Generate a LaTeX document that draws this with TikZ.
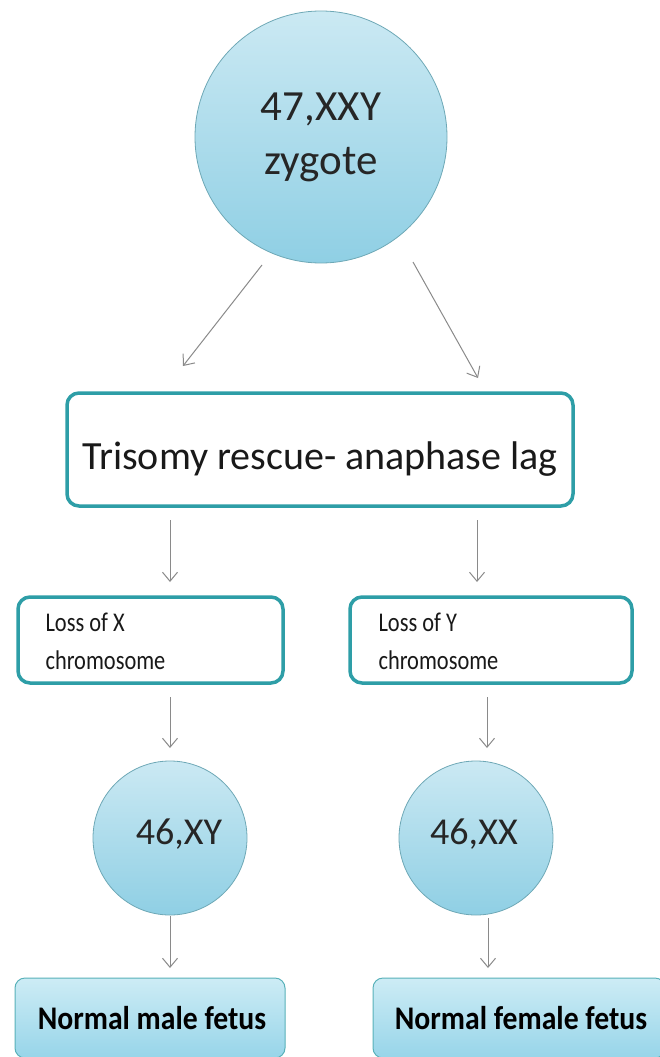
\documentclass[tikz,border=0pt]{standalone}
\usepackage{fontspec}
\setmainfont{Carlito}
\newfontfamily\narrowfont[FakeStretch=0.9]{Carlito}
\newfontfamily\slimfont[FakeStretch=0.83]{Carlito}
\usetikzlibrary{arrows.meta}
\definecolor{teal1}{HTML}{2E9EA7}
\definecolor{circtop}{HTML}{CBE9F3}
\definecolor{circbot}{HTML}{8FCFE4}
\definecolor{circline}{HTML}{6EA8B6}
\definecolor{boxtop}{HTML}{CDECF5}
\definecolor{boxbot}{HTML}{97D5E9}
\definecolor{arrgray}{HTML}{8A8A8A}
\tikzset{
  blob/.style={circle, draw=circline, line width=0.8pt, top color=circtop, bottom color=circbot, inner sep=0pt, align=center, text=black!85},
  whitebox/.style={rectangle, rounded corners=12pt, draw=teal1, line width=3.5pt, fill=white, inner sep=0pt},
  bluebox/.style={rectangle, rounded corners=10pt, draw=teal1!80, line width=1pt, top color=boxtop, bottom color=boxbot, inner sep=0pt},
  arr/.style={draw=arrgray, line width=1pt, -{Straight Barb[length=9pt,width=15pt]}},
  losstext/.style={anchor=west, align=left, font=\slimfont\fontsize{27}{38}\selectfont, text=black!90},
}
\begin{document}
\begin{tikzpicture}[x=1pt,y=-1pt]
\useasboundingbox (0,0) rectangle (660,1057);
% top circle
\node[blob, minimum size=252pt, font=\fontsize{43}{54}\selectfont] (zyg) at (321,137) {47,XXY\\zygote};
% trisomy box
\node[whitebox, minimum width=506pt, minimum height=113pt] (tri) at (320,449.5) {};
\node[font=\fontsize{40}{48}\selectfont, text=black!90] (tritxt) at (320,459) {Trisomy rescue- anaphase lag};
% arrows from zygote
\coordinate (a1s) at (262,265); \coordinate (a1e) at (183,366);
\coordinate (a2s) at (413,262); \coordinate (a2e) at (478,378);
\draw[arr] (a1s) -- (a1e);
\draw[arr] (a2s) -- (a2e);
% loss boxes
\node[whitebox, minimum width=265pt, minimum height=86pt] (lx) at (150.5,640) {};
\node[whitebox, minimum width=282pt, minimum height=86pt] (ly) at (491,640) {};
\node[losstext] (lxt) at (42,641) {Loss of X\\chromosome};
\node[losstext] (lyt) at (375,641) {Loss of Y\\chromosome};
% arrows trisomy -> loss
\coordinate (b1s) at (170,520); \coordinate (b1e) at (170,582);
\coordinate (b2s) at (477,520); \coordinate (b2e) at (477,582);
\draw[arr] (b1s) -- (b1e);
\draw[arr] (b2s) -- (b2e);
% circles
\node[blob, minimum size=154pt] (xy) at (170,838) {};
\node[blob, minimum size=154pt] (xx) at (476,838) {};
\node[font=\fontsize{38}{46}\selectfont, text=black!85] (xyt) at (179,834) {46,XY};
\node[font=\fontsize{38}{46}\selectfont, text=black!85] (xxt) at (474,834) {46,XX};
% arrows loss -> circles
\coordinate (c1s) at (170,697); \coordinate (c1e) at (170,748);
\coordinate (c2s) at (487,697); \coordinate (c2e) at (487,748);
\draw[arr] (c1s) -- (c1e);
\draw[arr] (c2s) -- (c2e);
% arrows circles -> fetus
\coordinate (d1s) at (170,916); \coordinate (d1e) at (170,968);
\coordinate (d2s) at (488,918); \coordinate (d2e) at (488,968);
\draw[arr] (d1s) -- (d1e);
\draw[arr] (d2s) -- (d2e);
% bottom boxes
\node[bluebox, minimum width=270pt, minimum height=80pt] (male) at (150,1018) {};
\node[bluebox, minimum width=292pt, minimum height=80pt] (female) at (519,1018) {};
\node[font=\narrowfont\bfseries\fontsize{33}{40}\selectfont] (malet) at (152,1018) {Normal male fetus};
\node[font=\narrowfont\bfseries\fontsize{33}{40}\selectfont] (femalet) at (521,1018) {Normal female fetus};
\end{tikzpicture}
\end{document}
